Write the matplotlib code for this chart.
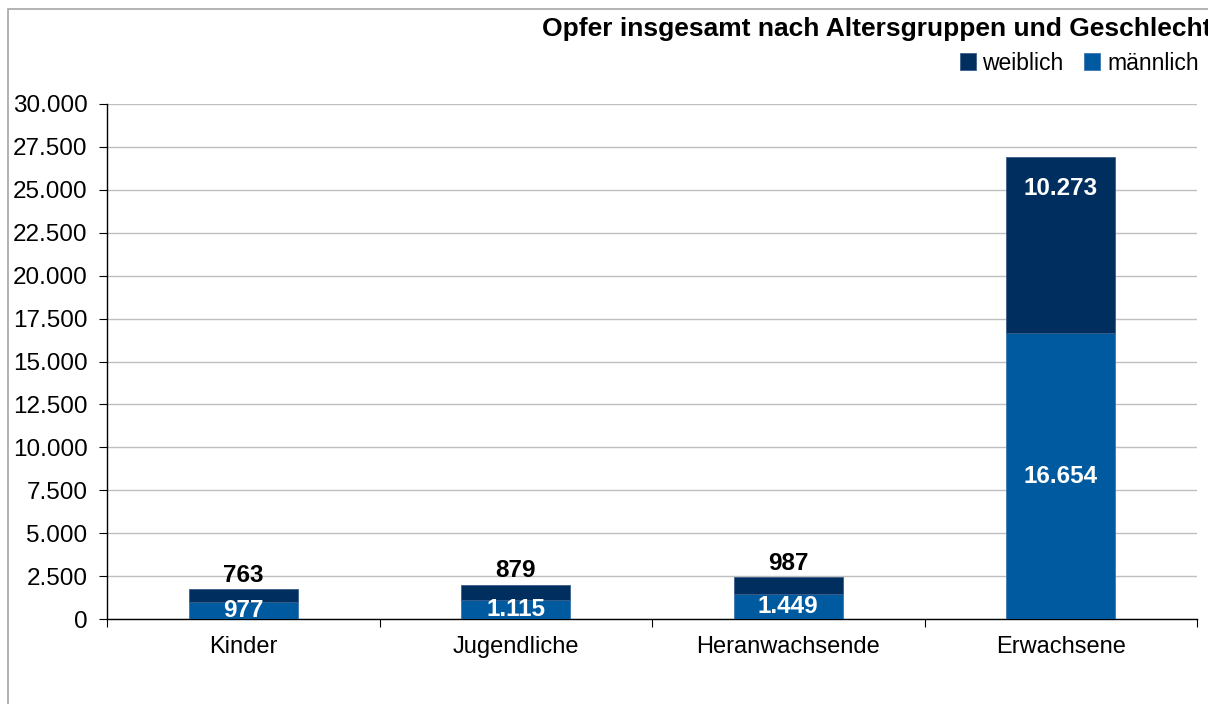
import matplotlib

matplotlib.use("Agg")

import matplotlib.pyplot as plt  # noqa: E402
from matplotlib.patches import Rectangle  # noqa: E402
from matplotlib.ticker import FuncFormatter  # noqa: E402

plt.rcParams["font.family"] = ["Liberation Sans", "DejaVu Sans"]

categories = ["Kinder", "Jugendliche", "Heranwachsende", "Erwachsene"]
maennlich = [977, 1115, 1449, 16654]
weiblich = [763, 879, 987, 10273]
y_ticks = [0, 2500, 5000, 7500, 10000, 12500, 15000, 17500, 20000, 22500, 25000, 27500, 30000]

COLOR_W = "#002E5F"
COLOR_M = "#005AA0"


def de_format(value):
    return f"{int(value):,}".replace(",", ".")


W, H = 1208, 704
fig = plt.figure(figsize=(W / 100, H / 100), dpi=100)

# outer chart frame (cut off at right and bottom)
fig.patches.append(Rectangle((8 / W, -0.1), 1.2, (H - 9) / H + 0.1,
                             transform=fig.transFigure, fill=False,
                             edgecolor="#A6A6A6", linewidth=1.2))

ax = fig.add_axes([107 / W, (H - 619) / H, (1197 - 107) / W, (619 - 104) / H])

x = list(range(len(categories)))
ax.bar(x, maennlich, width=0.4, color=COLOR_M, edgecolor="#3B76B0",
       linewidth=0.6, label="männlich", zorder=3)
ax.bar(x, weiblich, width=0.4, bottom=maennlich, color=COLOR_W,
       edgecolor="#3B5F8A", linewidth=0.6, label="weiblich", zorder=3)

ax.set_xlim(-0.5, len(categories) - 0.5)
ax.set_ylim(0, 30000)
ax.set_yticks(y_ticks)
ax.yaxis.set_major_formatter(FuncFormatter(lambda v, _: de_format(v)))
ax.yaxis.grid(True, color="#BFBFBF", linewidth=1.0, zorder=0)
ax.set_axisbelow(True)

ax.set_xticks([i - 0.5 for i in range(len(categories) + 1)])
ax.set_xticklabels([])
ax.set_xticks(x, minor=True)
ax.set_xticklabels(categories, minor=True)
ax.tick_params(axis="x", which="major", length=6, direction="out", color="black")
ax.tick_params(axis="x", which="minor", length=0, pad=12, labelsize=17)
ax.tick_params(axis="y", length=6, direction="out", labelsize=17.5, pad=8)

for side in ("top", "right"):
    ax.spines[side].set_visible(False)
for side in ("left", "bottom"):
    ax.spines[side].set_color("black")
    ax.spines[side].set_linewidth(1.0)

for i, (m, w) in enumerate(zip(maennlich, weiblich)):
    ax.text(i, m / 2, de_format(m), ha="center", va="center",
            color="white", fontsize=17.5, fontweight="bold", zorder=4)
    top = m + w
    if w > 5000:
        ax.annotate(de_format(w), (i, top), xytext=(0, -23),
                    textcoords="offset points", ha="center", va="center",
                    color="white", fontsize=17.5, fontweight="bold", zorder=4)
    else:
        ax.annotate(de_format(w), (i, top), xytext=(0, 10),
                    textcoords="offset points", ha="center", va="center",
                    color="black", fontsize=17.5, fontweight="bold", zorder=4)

fig.text(1211 / W, (H - 29) / H, "Opfer insgesamt nach Altersgruppen und Geschlecht",
         ha="right", va="center", fontsize=19, fontweight="bold")

handles, labels = ax.get_legend_handles_labels()
fig.legend(handles[::-1], labels[::-1], loc="center right",
           bbox_to_anchor=(1208 / W, (H - 63) / H), ncol=2, frameon=False,
           fontsize=16.5, handlelength=0.7, handleheight=0.7, handletextpad=0.3,
           columnspacing=0.9, borderaxespad=0)

fig.savefig("out.png", dpi=100)
